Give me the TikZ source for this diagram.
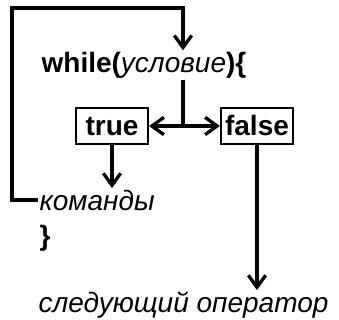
\documentclass[tikz,border=0pt]{standalone}
\usepackage{fontspec}
\setmainfont{Liberation Sans}
\usetikzlibrary{arrows.meta}
\tikzset{
    kw/.style={font=\fontsize{21}{25}\selectfont\bfseries, inner sep=1pt},
    txt/.style={font=\fontsize{21}{25}\selectfont\itshape, inner sep=1pt},
    flag/.style={draw, line width=1.6pt, font=\fontsize{21}{25}\selectfont\bfseries,
        minimum width=54pt, minimum height=27.5pt, inner sep=1pt,
        text height=15pt, text depth=0pt},
    flow/.style={line width=2.5pt},
}
\begin{document}
\begin{tikzpicture}[x=0.75pt, y=-0.75pt, >={Straight Barb[length=9pt,width=13pt,line width=2.5pt]}]
    \useasboundingbox (0,0) rectangle (339,320);

    \node[kw] (while) at (144,65) {while(\textnormal{\itshape условие})\{};
    \coordinate (split) at (183,126);
    \coordinate (corner) at (12,8);
    \node[flag] (true) at (112,126) {true};
    \node[flag] (false) at (257,126) {false};
    \node[txt, anchor=west] (cmd) at (38,200) {команды};
    \node[kw, anchor=west] (close) at (38,238) {\}};
    \node[txt, anchor=west] (next) at (37,305) {следующий оператор};

    \draw[flow] (while.south -| split) -- (split);
    \draw[flow, ->] (split) -- (true);
    \draw[flow, ->] (split) -- (false);
    \draw[flow, ->] (true) -- (true |- cmd.north);
    \draw[flow, ->] (false) -- (false |- next.north);
    \draw[flow, ->] (cmd.west) -| (corner) -| (split |- while.north);
\end{tikzpicture}
\end{document}
